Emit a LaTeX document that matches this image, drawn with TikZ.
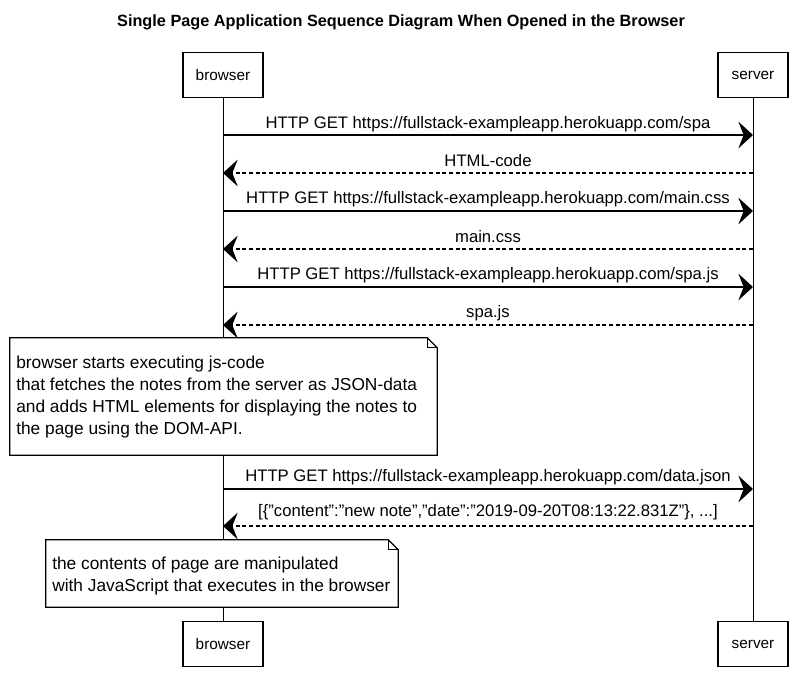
\documentclass[tikz,border=0pt]{standalone}
\usepackage{fontspec}
\setmainfont{Liberation Sans}
\usetikzlibrary{arrows.meta}
\begin{document}
\begin{tikzpicture}[x=0.75pt,y=-0.75pt,
  actor/.style={draw,line width=0.9pt,fill=white,minimum height=33.5pt,inner sep=0pt,font=\fontsize{11.5}{13}\selectfont},
  life/.style={line width=0.7pt},
  lbl/.style={inner sep=0pt,font=\fontsize{12.5}{14}\selectfont},
  req/.style={line width=0.9pt,-{Stealth[length=11pt,width=20pt,inset=4pt]}},
  ret/.style={line width=0.9pt,dash pattern=on 3pt off 2pt,-{Stealth[length=11pt,width=20pt,inset=4pt]}},
  notetxt/.style={inner sep=0pt,align=left,anchor=north west,font=\fontsize{13}{16.3}\selectfont},
  notearea/.style={inner sep=0pt},
  notebox/.style={draw,line width=0.9pt,fill=white},
  notefold/.style={line width=0.7pt}
]
\useasboundingbox (0,0) rectangle (802,691);
% title
\node[font=\fontsize{12.2}{14}\selectfont\bfseries] (title) at (401,22) {Single Page Application Sequence Diagram When Opened in the Browser};
% actors
\node[actor,minimum width=60pt] (bTop) at (223,75) {browser};
\node[actor,minimum width=52.5pt] (sTop) at (753,75) {server};
\node[actor,minimum width=60pt] (bBot) at (223,644) {browser};
\node[actor,minimum width=52.5pt] (sBot) at (753,644) {server};
% lifelines
\draw[life] (bTop.south) -- (bBot.north);
\draw[life] (sTop.south) -- (sBot.north);
% message anchor points
\foreach \n/\y in {1/135,2/173,3/211,4/249,5/287,6/325,7/489,8/526}{
  \coordinate (b\n) at (223,\y);
  \coordinate (s\n) at (753,\y);
}
% messages
\node[lbl] (l1) at (488,124) {HTTP GET https://fullstack-exampleapp.herokuapp.com/spa};
\draw[req] (b1) -- (s1);
\node[lbl] (l2) at (488,161) {HTML-code};
\draw[ret] (s2) -- (b2);
\node[lbl] (l3) at (488,199) {HTTP GET https://fullstack-exampleapp.herokuapp.com/main.css};
\draw[req] (b3) -- (s3);
\node[lbl] (l4) at (488,237) {main.css};
\draw[ret] (s4) -- (b4);
\node[lbl] (l5) at (488,275) {HTTP GET https://fullstack-exampleapp.herokuapp.com/spa.js};
\draw[req] (b5) -- (s5);
\node[lbl] (l6) at (488,313) {spa.js};
\draw[ret] (s6) -- (b6);
% note 1
\node[notearea,minimum width=320.25pt,minimum height=87.75pt] (n1) at (223.5,396.5) {};
\draw[notebox] (n1.north west) -- ([xshift=-7.5pt]n1.north east) -- ([yshift=-7.5pt]n1.north east) -- (n1.south east) -- (n1.south west) -- cycle;
\draw[notefold] ([xshift=-7.5pt]n1.north east) -- ([xshift=-7.5pt,yshift=-7.5pt]n1.north east) -- ([yshift=-7.5pt]n1.north east);
\node[notetxt] (n1t) at (16,356) {browser starts executing js-code\\that fetches the notes from the server as JSON-data\\and adds HTML elements for displaying the notes to\\the page using the DOM-API.};
% data.json
\node[lbl] (l7) at (488,477) {HTTP GET https://fullstack-exampleapp.herokuapp.com/data.json};
\draw[req] (b7) -- (s7);
\node[lbl] (l8) at (488,512) {[\{"content":"new note","date":"2019-09-20T08:13:22.831Z"\}, ...]};
\draw[ret] (s8) -- (b8);
% note 2
\node[notearea,minimum width=264pt,minimum height=50.25pt] (n2) at (222,573.5) {};
\draw[notebox] (n2.north west) -- ([xshift=-7.5pt]n2.north east) -- ([yshift=-7.5pt]n2.north east) -- (n2.south east) -- (n2.south west) -- cycle;
\draw[notefold] ([xshift=-7.5pt]n2.north east) -- ([xshift=-7.5pt,yshift=-7.5pt]n2.north east) -- ([yshift=-7.5pt]n2.north east);
\node[notetxt] (n2t) at (52,557) {the contents of page are manipulated\\with JavaScript that executes in the browser};
\end{tikzpicture}
\end{document}
